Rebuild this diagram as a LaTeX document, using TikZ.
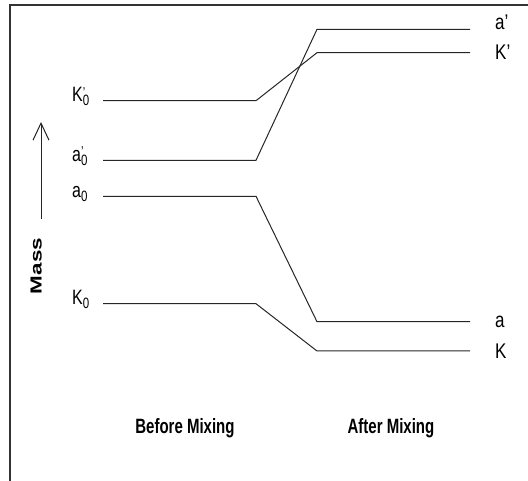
\documentclass[tikz,border=0pt]{standalone}
\usepackage{fontspec}
\usepackage{graphicx}
\setmainfont{Liberation Sans}
\usetikzlibrary{arrows.meta}
\newcommand{\subz}{\raisebox{-3pt}{\fontsize{11.5}{11.5}\selectfont 0}}
\newcommand{\primez}{\rlap{\raisebox{3.6pt}{\fontsize{11}{11}\selectfont ’}}}
\begin{document}
\begin{tikzpicture}[x=1pt,y=-1pt,
  level/.style={line width=1pt,draw=black!85},
  frame/.style={line width=1.2pt,draw=black!80},
  leftlab/.style={anchor=base west,inner sep=0pt,font=\fontsize{16}{16}\selectfont},
  rightlab/.style={anchor=base west,inner sep=0pt,font=\fontsize{17}{17}\selectfont},
  bottomlab/.style={anchor=base,inner sep=0pt,font=\fontsize{15}{15}\selectfont\bfseries},
  massarrow/.style={line width=1pt,draw=black!85,-{Straight Barb[length=17pt,width=16pt,line width=1pt]}}]
\useasboundingbox (0,0) rectangle (528,481);
% frame
\coordinate (fTR) at (528,5);
\coordinate (fTL) at (10,5);
\coordinate (fBL) at (10,481);
\draw[frame] (fTR) -- (fTL) -- (fBL);
% before-mixing level ends
\coordinate (Kp0a) at (103,100.7); \coordinate (Kp0b) at (256,100.7);
\coordinate (ap0a) at (103,160.3); \coordinate (ap0b) at (256,160.3);
\coordinate (a0a)  at (103,196.3); \coordinate (a0b)  at (256,196.3);
\coordinate (K0a)  at (103,303.7); \coordinate (K0b)  at (256,303.7);
% after-mixing level ends
\coordinate (apa) at (317,29.3);  \coordinate (apb) at (470,29.3);
\coordinate (Kpa) at (317,52.7);  \coordinate (Kpb) at (470,52.7);
\coordinate (aa)  at (317,321.7); \coordinate (ab)  at (470,321.7);
\coordinate (Ka)  at (317,351);   \coordinate (Kb)  at (470,351);
% levels and mixing connectors
\draw[level] (Kp0a) -- (Kp0b) -- (Kpa) -- (Kpb);
\draw[level] (ap0a) -- (ap0b) -- (apa) -- (apb);
\draw[level] (a0a) -- (a0b) -- (aa) -- (ab);
\draw[level] (K0a) -- (K0b) -- (Ka) -- (Kb);
% left labels
\node[leftlab] (lKp0) at (72,101.7) {\scalebox{1}[1.3]{K\primez\subz}};
\node[leftlab] (lap0) at (72,161.3) {\scalebox{1}[1.3]{a\primez\subz}};
\node[leftlab] (la0)  at (72,197.3) {\scalebox{1}[1.3]{a\subz}};
\node[leftlab] (lK0)  at (72,304.7) {\scalebox{1}[1.3]{K\subz}};
% right labels
\node[rightlab] (lap) at (495,30) {\scalebox{1}[1.25]{a’}};
\node[rightlab] (lKp) at (495,60) {\scalebox{1}[1.25]{K’}};
\node[rightlab] (la)  at (495,328) {\scalebox{1}[1.25]{a}};
\node[rightlab] (lK)  at (495,358.3) {\scalebox{1}[1.25]{K}};
% mass axis
\coordinate (mBot) at (41,219);
\coordinate (mTop) at (41,122);
\draw[massarrow] (mBot) -- (mTop);
\node[anchor=base,inner sep=0pt,rotate=90,font=\fontsize{16}{16}\selectfont\bfseries] (mass) at (41.7,266) {\scalebox{1.4}[1]{Mass}};
% bottom labels
\node[bottomlab] (before) at (185,433) {\scalebox{1}[1.38]{Before Mixing}};
\node[bottomlab] (after)  at (391,433) {\scalebox{1}[1.38]{After Mixing}};
\end{tikzpicture}
\end{document}
